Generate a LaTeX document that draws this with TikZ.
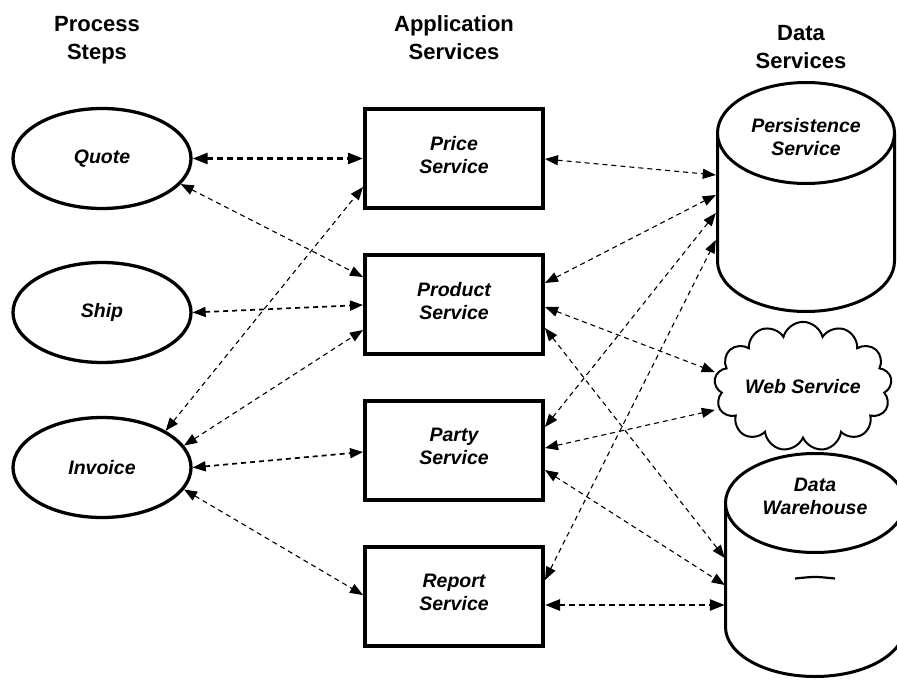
\documentclass[tikz,border=0pt]{standalone}
\usepackage{fontspec}
\setmainfont{Liberation Sans}
\usetikzlibrary{arrows.meta,shapes.geometric,shapes.symbols}
\begin{document}
\begin{tikzpicture}[x=1pt,y=-1pt,
  hdr/.style={font=\fontsize{22}{28}\selectfont\bfseries, align=center, text depth=5pt, inner sep=0pt},
  lbl/.style={font=\fontsize{19.5}{23}\selectfont\bfseries\itshape, align=center},
  stepnode/.style={ellipse, draw, line width=3.3pt, minimum width=178pt, minimum height=100pt, lbl, inner sep=0pt},
  svcbox/.style={rectangle, draw, line width=4pt, minimum width=178pt, minimum height=99pt, lbl, text depth=8pt},
  cyl/.style={draw, line width=3pt, fill=white},
  link/.style={dash pattern=on 5pt off 4pt, line width=1.1pt, {Triangle[length=13pt,width=10pt]}-{Triangle[length=13pt,width=10pt]}},
  mlink/.style={link, line width=1.7pt},
  tlink/.style={dash pattern=on 6pt off 4pt, line width=2.6pt, {Triangle[length=15pt,width=11pt]}-{Triangle[length=15pt,width=11pt]}},
]
\useasboundingbox (0,0) rectangle (897,680);

% headers
\node[hdr] (h1) at (97,40.5) {Process\\Steps};
\node[hdr] (h2) at (454,40.5) {Application\\Services};
\node[hdr] (h3) at (801,49.5) {Data\\Services};

% process steps
\node[stepnode] (quote) at (102,158.5) {Quote};
\node[stepnode] (ship) at (102,312.5) {Ship};
\node[stepnode] (invoice) at (102,467.5) {Invoice};

% application services
\node[svcbox] (price) at (454,158.5) {Price\\Service};
\node[svcbox] (product) at (454,304.5) {Product\\Service};
\node[svcbox] (party) at (454,450.5) {Party\\Service};
\node[svcbox] (report) at (454,596.5) {Report\\Service};

% persistence cylinder
\draw[cyl] (717.5,133) -- (717.5,261) arc[start angle=180,end angle=0,x radius=88.5,y radius=50.5] -- (894.5,133);
\draw[cyl] (806,133) ellipse[x radius=88.5,y radius=50.5];
\node[lbl, minimum width=180pt] (persist) at (806,136.65) {Persistence\\Service};

% data warehouse cylinder
\draw[cyl] (725.5,503) -- (725.5,627) arc[start angle=180,end angle=0,x radius=89.5,y radius=49.5] -- (904.5,503);
\draw[cyl] (815,503) ellipse[x radius=89.5,y radius=49.5];
\draw[line width=2.2pt] (795,578.5) .. controls (815,576.5) .. (835,578.5);
\node[lbl, minimum width=180pt] (dw) at (815,496.65) {Data\\Warehouse};

% web service cloud
\node[cloud, draw, line width=2pt, cloud puffs=13, aspect=1.6, minimum width=172pt, minimum height=111pt, inner sep=0pt, lbl, fill=white] (web) at (803,386.5) {Web Service};

% connectors
\draw[tlink] (quote.east) -- (price.west);
\draw[link] (quote.-18) -- (product.west |- 0,277);
\draw[mlink] (ship.east) -- (product.west |- 0,305);
\draw[link] (invoice.30) -- (price.west |- 0,187);
\draw[link] (invoice.15) -- (product.west |- 0,330);
\draw[mlink] (invoice.east) -- (party.west |- 0,452);
\draw[link] (invoice.-15) -- (report.west |- 0,595);
\draw[link] (price.east |- 0,159) -- (persist.west |- 0,175);
\draw[link] (product.east |- 0,283) -- (persist.west |- 0,195);
\draw[link] (product.east |- 0,307) -- (web.west |- 0,372);
\draw[link] (product.east |- 0,328) -- (dw.west |- 0,558);
\draw[link] (party.east |- 0,427) -- (persist.west |- 0,213);
\draw[link] (party.east |- 0,448) -- (web.west |- 0,410);
\draw[link] (party.east |- 0,470) -- (dw.west |- 0,585);
\draw[link] (report.east |- 0,580) -- (persist.west |- 0,240);
\draw[tlink] (report.east |- 0,605) -- (dw.west |- 0,605);
\end{tikzpicture}
\end{document}
